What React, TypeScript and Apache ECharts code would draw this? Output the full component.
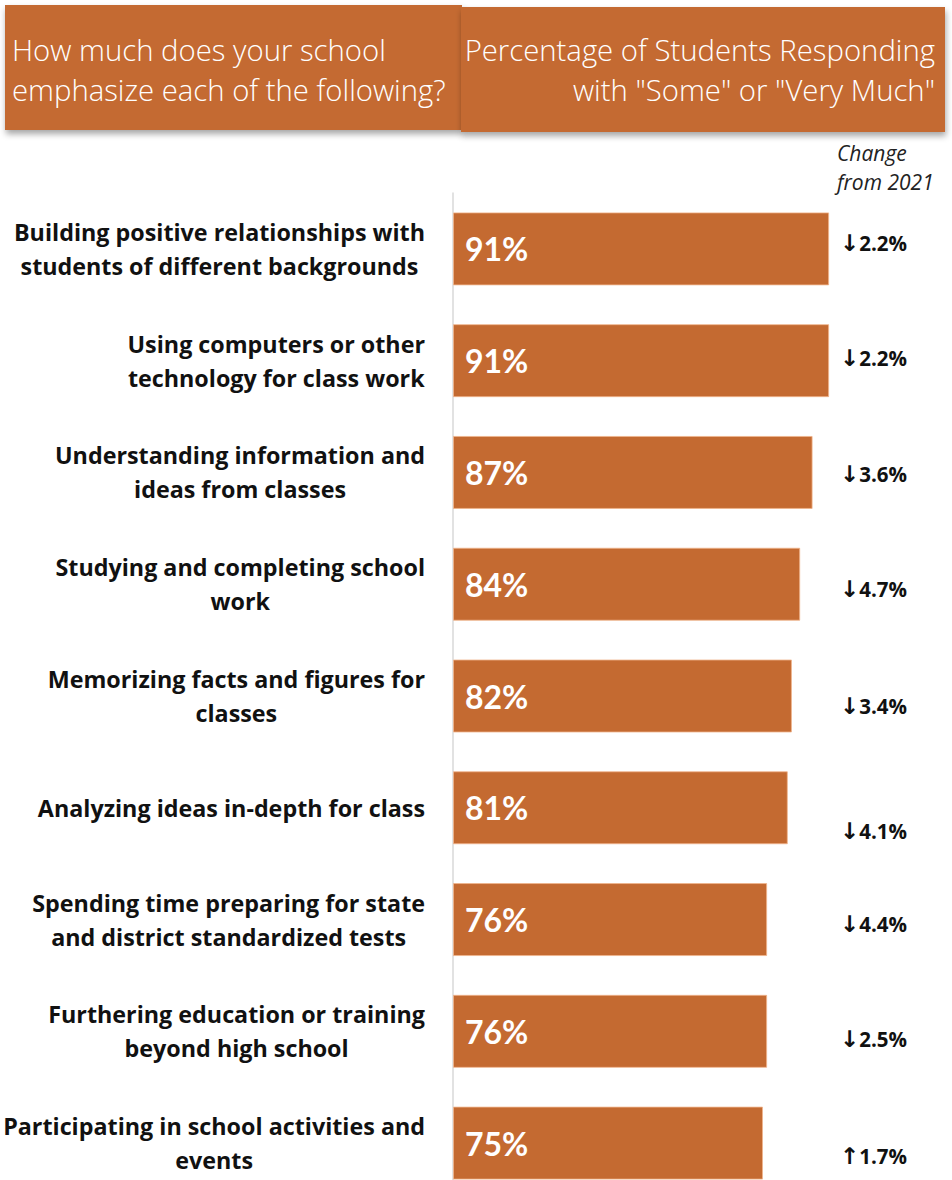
import React, { useEffect, useRef } from "react";
import * as echarts from "echarts";

const categories: string[] = [
  "Building positive relationships with\nstudents of different backgrounds",
  "Using computers or other\ntechnology for class work",
  "Understanding information and\nideas from classes",
  "Studying and completing school\nwork",
  "Memorizing facts and figures for\nclasses",
  "Analyzing ideas in-depth for class",
  "Spending time preparing for state\nand district standardized tests",
  "Furthering education or training\nbeyond high school",
  "Participating in school activities and\nevents",
];
const percentages: number[] = [91, 91, 87, 84, 82, 81, 76, 76, 75];
const changes: number[] = [-2.2, -2.2, -3.6, -4.7, -3.4, -4.1, -4.4, -2.5, 1.7];

const leftHeader = "How much does your school\nemphasize each of the following?";
const rightHeader = 'Percentage of Students Responding\nwith "Some" or "Very Much"';
const changeHeader = "Change\nfrom 2021";

// layout nudges for change labels (vertical pixel offsets)
const changeNudge: number[] = [-6, -3, 2, 5, 10, 23, 4, 8, 13];

const X_MAX = 120;
const ORANGE = "#C46A31";
const FONT = "'Open Sans', 'Noto Sans', sans-serif";
const FONT_NUM = "Lato, 'Open Sans', sans-serif";

export default function App() {
  const ref = useRef<HTMLDivElement>(null);
  useEffect(() => {
    document.body.style.margin = "0";
    if (!ref.current) return;
    const chart = echarts.init(ref.current, null, { renderer: "svg" });
    const shadow = {
      shadowBlur: 6,
      shadowOffsetX: 1,
      shadowOffsetY: 4,
      shadowColor: "rgba(0,0,0,0.35)",
    };
    chart.setOption({
      animation: false,
      backgroundColor: "#ffffff",
      textStyle: { fontFamily: FONT },
      grid: {
        left: 453,
        right: 3,
        top: 193,
        height: 1006,
        containLabel: false,
        outerBoundsMode: "none",
      },
      xAxis: {
        type: "value",
        min: 0,
        max: X_MAX,
        show: false,
        splitLine: { show: false },
      },
      yAxis: {
        type: "category",
        data: categories,
        inverse: true,
        axisTick: { show: false },
        axisLine: { show: true, lineStyle: { color: "#d9d9d9", width: 1.5 } },
        axisLabel: {
          margin: 28,
          align: "right",
          formatter: (v: string) =>
            v
              .split("\n")
              .map((l) => "{c|" + l + "}")
              .join("\n"),
          rich: {
            c: {
              align: "center",
              fontFamily: FONT,
              fontWeight: "bold",
              fontSize: 23.3,
              lineHeight: 34,
              color: "#111111",
            },
          },
        },
      },
      series: [
        {
          type: "bar",
          data: percentages,
          barWidth: 73,
          itemStyle: {
            color: ORANGE,
            borderColor: "rgba(240,180,140,0.8)",
            borderWidth: 1,
          },
          label: {
            show: true,
            position: "insideLeft",
            distance: 12,
            formatter: (p: any) => p.value + "%",
            color: "#ffffff",
            fontFamily: FONT_NUM,
            fontWeight: "bold",
            fontSize: 32,
          },
          z: 2,
        },
        {
          type: "bar",
          barWidth: 73,
          barGap: "-100%",
          silent: true,
          data: changes.map((c, i) => ({
            value: X_MAX,
            label: { offset: [0, changeNudge[i]] },
          })),
          itemStyle: { color: "rgba(0,0,0,0)" },
          label: {
            show: true,
            position: "insideRight",
            distance: 42,
            formatter: (p: any) => {
              const c = changes[p.dataIndex];
              return "{a|" + (c < 0 ? "↓" : "↑") + "}{v|" + Math.abs(c).toFixed(1) + "%}";
            },
            rich: {
              a: {
                fontFamily: "'DejaVu Sans', sans-serif",
                fontSize: 23,
                fontWeight: "bold",
                color: "#111111",
              },
              v: {
                fontFamily: FONT,
                fontSize: 20.5,
                fontWeight: "bold",
                color: "#111111",
              },
            },
          },
          z: 3,
        },
      ],
      graphic: [
        {
          type: "rect",
          shape: { x: 5, y: 5, width: 457, height: 125 },
          style: { fill: ORANGE, ...shadow },
          z: 10,
        },
        {
          type: "rect",
          shape: { x: 461, y: 7, width: 484, height: 125 },
          style: { fill: ORANGE, ...shadow },
          z: 10,
        },
        {
          type: "text",
          x: 12,
          y: 70,
          z: 11,
          style: {
            text: leftHeader,
            fill: "#ffffff",
            fontFamily: FONT,
            fontSize: 29.3,
            fontWeight: 300,
            lineHeight: 40,
            textAlign: "left",
            textVerticalAlign: "middle",
          },
        },
        {
          type: "text",
          x: 935,
          y: 70,
          z: 11,
          style: {
            text: rightHeader,
            fill: "#ffffff",
            fontFamily: FONT,
            fontSize: 29.3,
            fontWeight: 300,
            lineHeight: 40,
            textAlign: "right",
            textVerticalAlign: "middle",
          },
        },
        {
          type: "text",
          x: 837,
          y: 167,
          z: 11,
          style: {
            text: changeHeader,
            fill: "#222222",
            fontFamily: FONT,
            fontSize: 21,
            fontStyle: "italic",
            lineHeight: 29,
            textAlign: "left",
            textVerticalAlign: "middle",
          },
        },
      ],
    });
    return () => chart.dispose();
  }, []);
  return <div ref={ref} style={{ width: 952, height: 1180 }} />;
}
